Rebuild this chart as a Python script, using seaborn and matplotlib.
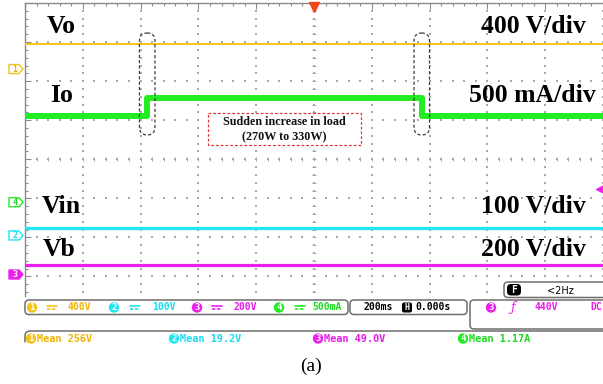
import numpy as np
import pandas as pd
import matplotlib
matplotlib.use("Agg")
import matplotlib.pyplot as plt
import seaborn as sns
from matplotlib.patches import FancyBboxPatch, Polygon, Circle
from matplotlib.lines import Line2D

# ---- channel settings and readings -------------------------------------
channel_ids = ["1", "2", "3", "4"]
signal_names = ["Vo", "Vin", "Vb", "Io"]
scale_labels = ["400 V/div", "100 V/div", "200 V/div", "500 mA/div"]
units_per_div = [400, 100, 200, 0.5]
ground_div = [2.31, -1.95, -2.95, -1.10]          # channel offsets (divisions)
coupling_labels = ["400V", "100V", "200V", "500mA"]
mean_values = [256, 19.2, 49.0, 1.17]
mean_labels = ["Mean 256V", "Mean 19.2V", "Mean 49.0V", "Mean 1.17A"]

# output current before / during / after the load step
io_times = [-1.0, -0.578, 0.372, 1.0]             # s
io_levels = [1.10, 1.34, 1.10, 1.10]              # A

time_window = [-1.0, 1.0]                         # 200 ms/div, 10 div
timebase_label = "200ms"
trigger_pos_label = "0.000s"
trigger_level = 440                               # V on CH3
trigger_label = "440V"
freq_label = "<2Hz"

colors = {"1": "#F5C21A", "2": "#1FE6F2", "3": "#EC1FEC", "4": "#22EC22"}
text_colors = {"1": "#F0B400", "2": "#18DDF0", "3": "#E81CE8", "4": "#1ED81E"}

sns.set_style("white")
plt.rcParams["font.family"] = ["DejaVu Sans"]

W, H = 603, 384
fig = plt.figure(figsize=(W / 100, H / 100), dpi=100)
fig.patch.set_facecolor("white")
ax = fig.add_axes([25 / W, 1 - 296 / H, 578 / W, 293 / H])
ax.set_xlim(*time_window)
ax.set_ylim(-3.5, 4.0)

# ---- graticule ----------------------------------------------------------
tdiv = 0.2
x_major = np.arange(-1.0, 1.0001, tdiv)
x_minor = np.arange(-1.0, 1.0001, tdiv / 5)
y_major = np.arange(-3, 4.0001, 1.0)
y_minor = np.arange(-3.4, 4.0001, 0.2)
gx, gy = np.meshgrid(x_major, y_minor)
ax.scatter(gx.ravel(), gy.ravel(), s=0.9, marker="s", color="#a9a9a9", lw=0, zorder=1)
gx, gy = np.meshgrid(x_minor, y_major)
ax.scatter(gx.ravel(), gy.ravel(), s=0.9, marker="s", color="#a9a9a9", lw=0, zorder=1)
# centre cross with minor tick dashes
ax.plot(np.zeros_like(y_minor), y_minor, ls="none", marker="_", ms=3, mew=0.7,
        color="#a5a5a5", zorder=1)
ax.plot(x_minor, np.zeros_like(x_minor), ls="none", marker="|", ms=2.5, mew=0.7,
        color="#a5a5a5", zorder=1)

for side in ["right", "bottom"]:
    ax.spines[side].set_visible(False)
for side in ["left", "top"]:
    ax.spines[side].set_color("#8a8a8a")
    ax.spines[side].set_linewidth(1.0)
ax.set_xticks(x_major)
ax.set_xticks(x_minor, minor=True)
ax.set_yticks(y_major)
ax.set_yticks(y_minor, minor=True)
ax.tick_params(which="both", direction="in", top=True, left=True, bottom=False,
               right=False, labelleft=False, labelbottom=False, color="#8a8a8a")
ax.tick_params(which="major", length=4, width=0.8)
ax.tick_params(which="minor", length=2.5, width=0.8)
ax.grid(False)

# ---- traces -------------------------------------------------------------
frames = []
for cid, name, scale, g, mean in zip(channel_ids, signal_names, units_per_div,
                                     ground_div, mean_values):
    if name == "Io":
        t, v = io_times, io_levels
    else:
        t, v = time_window, [mean, mean]
    frames.append(pd.DataFrame({"t": t, "value": v, "ch": cid,
                                "div": [g + val / scale for val in v]}))
traces = pd.concat(frames, ignore_index=True)
widths = {"1": 1.4, "2": 2.3, "3": 2.3, "4": 4.3}
for cid in channel_ids:
    d = traces[traces["ch"] == cid]
    sns.lineplot(data=d, x="t", y="div", ax=ax, color=colors[cid], lw=widths[cid],
                 estimator=None, sort=False, drawstyle="steps-post",
                 legend=False, zorder=3)
ax.set_xlabel("")
ax.set_ylabel("")

# trigger markers
ax.plot([0], [4.0 - 0.1], marker="v", ms=7, color="#F0461A", clip_on=False, zorder=5)
trig_div = ground_div[2] + trigger_level / units_per_div[2]
ax.plot([time_window[1] - 0.012], [trig_div], marker="<", ms=6, color=colors["3"],
        clip_on=False, zorder=5)

# ---- overlay in pixel units --------------------------------------------
ov = fig.add_axes([0, 0, 1, 1])
ov.set_zorder(3)
ov.patch.set_visible(False)
ov.set_xlim(0, W)
ov.set_ylim(H, 0)
ov.axis("off")


def to_px(t, d):
    return ov.transData.inverted().transform(ax.transData.transform((t, d)))


serif_b = dict(family="Liberation Serif", weight="bold")
mono_b = dict(family="DejaVu Sans Mono", weight="bold")

# channel ground tags at the left edge
for cid, g in zip(channel_ids, ground_div):
    _, yp = to_px(0, g)
    pts = [(9, yp - 4.5), (19, yp - 4.5), (23, yp), (19, yp + 4.5), (9, yp + 4.5)]
    filled = cid == "3"
    ov.add_patch(Polygon(pts, closed=True, fc=colors[cid] if filled else "white",
                         ec=colors[cid], lw=1.0, joinstyle="round"))
    ov.text(15, yp + 0.3, cid, color="white" if filled else text_colors[cid],
            ha="center", va="center", fontsize=6, **mono_b)

# signal names and scales
label_rows = {"Vo": (47, 33), "Io": (50, 102), "Vin": (42, 213), "Vb": (43, 256)}
for name, scale_lab in zip(signal_names, scale_labels):
    x0, yb = label_rows[name]
    ov.text(x0, yb, name, ha="left", va="baseline", fontsize=18.5, color="black",
            **serif_b)
    ov.text(596 if "mA" in scale_lab else 586, yb, scale_lab, ha="right",
            va="baseline", fontsize=18.5, color="black", **serif_b)

# dashed outlines around the load step edges
for t_edge in io_times[1:3]:
    xp, _ = to_px(t_edge, 0)
    ov.add_patch(FancyBboxPatch((xp - 7.5, 33), 15.5, 102,
                                boxstyle="round,pad=0,rounding_size=7.7",
                                fc="none", ec="#3a3a3a", lw=0.9, ls=(0, (2.5, 1.8))))

# load-step note
ov.add_patch(FancyBboxPatch((208, 113), 153, 32, boxstyle="square,pad=0",
                            fc="white", ec="#E83434", lw=0.9, ls=(0, (2.2, 1.6))))
ov.text(284.5, 129.5, "Sudden increase in load\n(270W to 330W)", ha="center",
        va="center", fontsize=8.7, linespacing=1.35, color="#111111", **serif_b)

# ---- status bar ---------------------------------------------------------
def rbox(x, y, w, h, r=4, lw=1.1):
    ov.add_patch(FancyBboxPatch((x, y), w, h, boxstyle=f"round,pad=0,rounding_size={r}",
                                fc="white", ec="#6e6e6e", lw=lw, clip_on=False))


def badge(x, y, cid):
    ov.add_patch(Circle((x, y), 5.2, fc=colors[cid], ec="none"))
    ov.text(x, y + 0.4, cid, ha="center", va="center", color="white",
            fontsize=6.5, **mono_b)


rbox(504, 282, 120, 15.5)
ov.add_patch(FancyBboxPatch((507, 284), 14, 11.5, boxstyle="round,pad=0,rounding_size=4",
                            fc="black", ec="none"))
ov.text(514, 290, "F", ha="center", va="center", color="white", fontsize=7, **mono_b)
ov.text(560, 290.5, freq_label, ha="center", va="center", color="black", fontsize=7,
        family="DejaVu Sans")

rbox(25, 300, 323, 14.5)
badge_x = [32, 114, 197, 279]
sym_x = [47, 130, 212, 295]
text_x = [68, 152, 233, 312]
for cid, bx, sx, tx, lab in zip(channel_ids, badge_x, sym_x, text_x, coupling_labels):
    badge(bx, 307.5, cid)
    ov.add_line(Line2D([sx, sx + 10], [306, 306], color=colors[cid], lw=1.2))
    ov.add_line(Line2D([sx, sx + 10], [309, 309], color=colors[cid], lw=1.2,
                       ls=(0, (2, 1))))
    ov.text(tx, 307.5, lab, ha="left", va="center", color=text_colors[cid],
            fontsize=7, **mono_b)

rbox(350, 300, 117, 14.5)
ov.text(364, 307.5, timebase_label, ha="left", va="center", color="black",
        fontsize=7, **mono_b)
ov.add_patch(FancyBboxPatch((402, 302.5), 10, 10, boxstyle="round,pad=0,rounding_size=2",
                            fc="black", ec="none"))
ov.text(407, 307.8, "H", ha="center", va="center", color="white", fontsize=6, **mono_b)
ov.text(415, 307.5, trigger_pos_label, ha="left", va="center", color="black",
        fontsize=7, **mono_b)

rbox(470, 300, 160, 29)
badge(491, 307.5, "3")
ov.text(513, 308, "ƒ", ha="center", va="center", color=colors["3"], fontsize=9,
        family="DejaVu Serif", style="italic")
ov.text(535, 307.5, trigger_label, ha="left", va="center", color=text_colors["3"],
        fontsize=7, **mono_b)
ov.text(590, 307.5, "DC", ha="left", va="center", color=text_colors["3"],
        fontsize=7, **mono_b)

# measurement row
ov.add_line(Line2D([25, 25, 26.2, 29, W + 5], [342, 335, 332.2, 331, 331],
                   color="#6e6e6e", lw=1.1))
mean_badge_x = [31, 174, 318, 463]
for cid, bx, lab in zip(channel_ids, mean_badge_x, mean_labels):
    badge(bx, 338.5, cid)
    ov.text(bx + 6, 338.5, lab, ha="left", va="center", color=text_colors[cid],
            fontsize=7.4, **mono_b)

ov.text(311, 366, "(a)", ha="center", va="center", fontsize=14,
        family="Liberation Serif", color="black")

fig.savefig("out.png", dpi=100, facecolor="white")
